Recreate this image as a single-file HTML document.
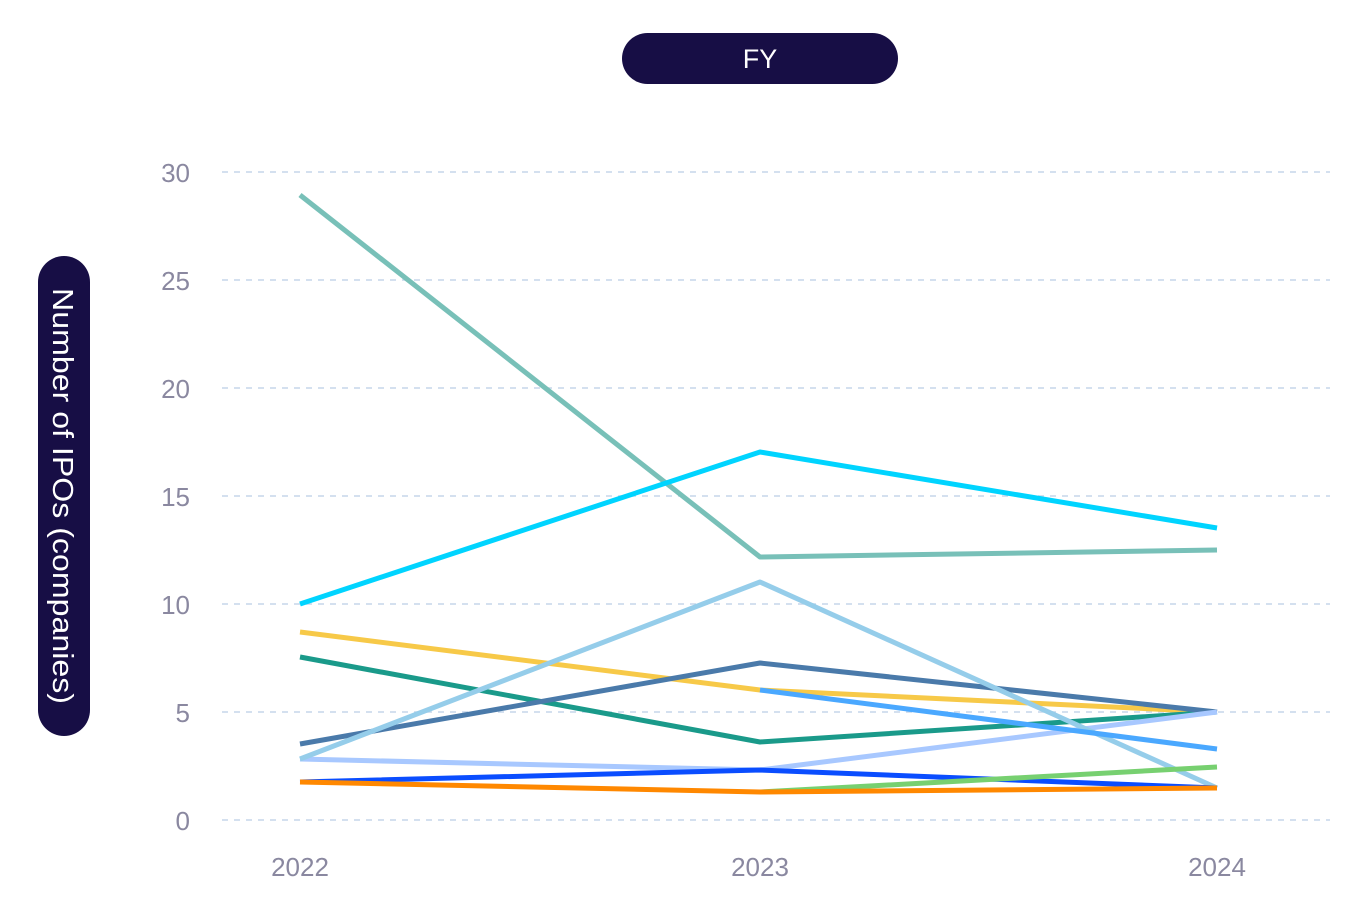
<!DOCTYPE html>
<html><head><meta charset="utf-8"><style>
html,body{margin:0;padding:0;background:#fff;width:1368px;height:911px;overflow:hidden}
text{font-family:"Liberation Sans",sans-serif}
</style></head><body>
<svg width="1368" height="911" viewBox="0 0 1368 911" xmlns="http://www.w3.org/2000/svg">
<rect x="622" y="33" width="276" height="51" rx="25.5" fill="#170e45"/>
<text x="760" y="68" text-anchor="middle" font-size="27" fill="#fff">FY</text>
<rect x="38" y="256" width="52" height="480" rx="26" fill="#170e45"/>
<text transform="translate(53,496) rotate(90)" text-anchor="middle" font-size="29" fill="#fff" textLength="416" lengthAdjust="spacingAndGlyphs">Number of IPOs (companies)</text>
<g stroke="#c5d6ea" stroke-width="1.5" stroke-dasharray="6,6">
<line x1="222" y1="172" x2="1330" y2="172"/><line x1="222" y1="280" x2="1330" y2="280"/>
<line x1="222" y1="388" x2="1330" y2="388"/><line x1="222" y1="496" x2="1330" y2="496"/>
<line x1="222" y1="604" x2="1330" y2="604"/><line x1="222" y1="712" x2="1330" y2="712"/>
<line x1="222" y1="820" x2="1330" y2="820"/>
</g>
<g font-size="26" fill="#8a88a0" text-anchor="end">
<text x="190" y="182">30</text><text x="190" y="290">25</text><text x="190" y="398">20</text>
<text x="190" y="506">15</text><text x="190" y="614">10</text><text x="190" y="722">5</text>
<text x="190" y="830">0</text>
</g>
<g font-size="26" fill="#8a88a0" text-anchor="middle">
<text x="300" y="876">2022</text><text x="760" y="876">2023</text><text x="1217" y="876">2024</text>
</g>
<g fill="none" stroke-width="5" stroke-linejoin="round">
<polyline stroke="#78c0b8" points="300,195 760,557 1217,550"/>
<polyline stroke="#00d4ff" points="300,604 760,452 1217,528"/>
<polyline stroke="#f7c948" points="300,632 760,690 1217,712"/>
<polyline stroke="#1a9a8a" points="300,657 760,742 1217,712"/>
<polyline stroke="#4a7aaa" points="300,744 760,663 1217,712"/>
<polyline stroke="#a8c8ff" points="300,759 760,770 1217,712"/>
<polyline stroke="#95cdea" points="300,759 760,582 1217,788"/>
<polyline stroke="#4aa8ff" points="760,690 1217,749"/>
<polyline stroke="#0a4dff" points="300,782 760,770 1217,788"/>
<polyline stroke="#77d070" points="760,792 1217,767"/>
<polyline stroke="#ff8800" points="300,782 760,792 1217,788"/>
</g>
</svg>
</body></html>
